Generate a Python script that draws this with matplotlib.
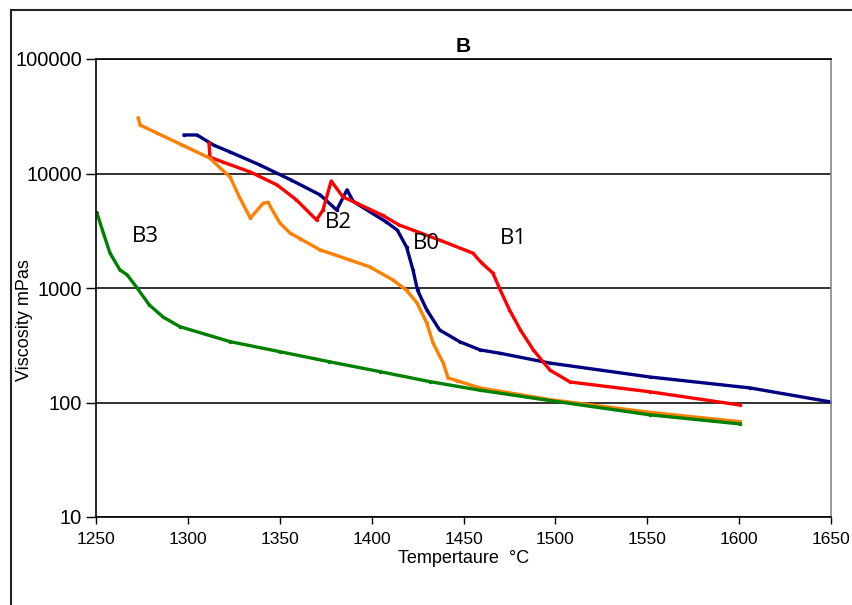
import numpy as np
import matplotlib
matplotlib.use("Agg")
from matplotlib import pyplot as plt
from matplotlib.lines import Line2D

# viscosity curves (temperature degC, viscosity mPas)
b0_t = [1298, 1305, 1314, 1323, 1339, 1356, 1372, 1381, 1386.6, 1390, 1408, 1414, 1419,
        1422.5, 1425, 1430, 1437, 1448, 1459, 1470, 1497, 1551.5, 1606, 1650]
b0_v = [21700, 21700, 17700, 15400, 11900, 8800, 6500, 4800, 7200, 5700, 3770, 3200, 2280,
        1440, 955, 645, 430, 339, 288, 269, 221, 167, 134, 101]

b1_t = [1311.5, 1312, 1319, 1334, 1348.5, 1359, 1370, 1373.5, 1378, 1384.4, 1392, 1406,
        1415, 1437, 1455, 1460, 1466, 1470, 1475, 1481, 1488, 1497, 1508, 1551.5, 1600.5]
b1_v = [18400, 13900, 12600, 10300, 7950, 5900, 3930, 4790, 8600, 6240, 5500, 4310,
        3550, 2620, 2020, 1650, 1350, 960, 645, 430, 288, 192, 151, 124, 95]

b2_t = [1273, 1274, 1283, 1297, 1312, 1317.5, 1323, 1328, 1334, 1341, 1343.6, 1350,
        1355.6, 1361, 1372, 1388, 1399, 1411.6, 1419, 1424.7, 1430, 1433.4, 1439, 1441.6,
        1446.5, 1459, 1497, 1551.5, 1600.5]
b2_v = [30500, 26500, 22600, 17700, 13600, 11200, 9300, 6240, 4080, 5500, 5600, 3700,
        3020, 2700, 2150, 1760, 1530, 1175, 955, 740, 494, 331, 221, 164,
        155, 134, 106, 82, 68]

b3_t = [1250.5, 1254, 1257.6, 1263, 1267, 1272, 1279, 1286.5, 1295.7, 1323, 1350, 1377,
        1404.6, 1431.8, 1459, 1497, 1551.5, 1600.5]
b3_v = [4520, 3020, 2020, 1440, 1300, 1020, 712, 558, 459, 340, 278, 227,
        186, 152, 128, 104, 78, 65]

labels = ["B0", "B1", "B2", "B3"]
label_pos = [(1430, 2470), (1477, 2680), (1382, 3770), (1276.7, 2790)]

fig = plt.figure(figsize=(8.53, 6.05), dpi=100)
ax = fig.add_axes([96/853, 1-517/605, 735/853, 458/605])

ax.plot(b0_t, b0_v, color='#000080', lw=2.4, marker='.', ms=3)
ax.plot(b1_t, b1_v, color='#ff0000', lw=2.4, marker='.', ms=3)
ax.plot(b2_t, b2_v, color='#ff7f00', lw=2.4, marker='.', ms=3)
ax.plot(b3_t, b3_v, color='#008000', lw=2.4, marker='.', ms=3)

for lab, (x, y) in zip(labels, label_pos):
    ax.text(x, y, lab, fontsize=16, family='Open Sans', ha='center', va='center')

ax.set_yscale('log')
ax.set_xlim(1250, 1650)
ax.set_ylim(10, 100000)
ax.set_xticks(np.arange(1250, 1651, 50))
ax.set_yticks([10, 100, 1000, 10000, 100000])
ax.set_yticklabels(['10', '100', '1000', '10000', '100000'])
ax.yaxis.set_minor_locator(matplotlib.ticker.NullLocator())
ax.tick_params(axis='y', direction='out', length=7, width=1, labelsize=14.5, pad=3)
ax.tick_params(axis='x', direction='out', length=5, width=1, labelsize=12.5, pad=6)
for t in ax.get_xticklabels() + ax.get_yticklabels():
    t.set_family('Liberation Sans')
ax.grid(axis='y', which='major', color='#222222', lw=1.3)
for s in ax.spines.values():
    s.set_linewidth(1.2)
ax.spines['right'].set_color('#888888')

ax.set_title('B', fontsize=15, fontweight='bold', family='Liberation Sans', pad=5)
ax.set_xlabel('Tempertaure  \u00b0C', fontsize=13, family='Liberation Sans', labelpad=2)
fig.text(25/853, 1-320/605, 'Viscosity mPas', rotation=90, fontsize=13,
         family='Liberation Sans', ha='center', va='center')

# outer chart border
fig.add_artist(Line2D([11/853, 1], [1-10/605, 1-10/605], color='#222222', lw=1.5))
fig.add_artist(Line2D([11/853, 11/853], [0, 1-10/605], color='#222222', lw=1.5))

fig.savefig('out.png', dpi=100)
